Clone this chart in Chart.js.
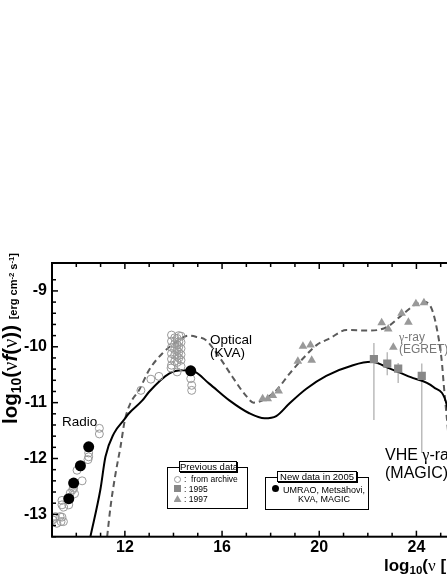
<!DOCTYPE html>
<html lang="en">
<head>
<meta charset="UTF-8">
<title>SED</title>
<script src="https://cdn.jsdelivr.net/npm/chart.js@4.4.0/dist/chart.umd.min.js"></script>
<style>
    html, body {
        margin: 0;
        padding: 0;
        width: 447px;
        height: 578px;
        overflow: hidden;
        background: #fff;
    }
    body {
        position: relative;
        font-family: "Liberation Sans", Arial, sans-serif;
        color: #000;
    }
    #sed { position: absolute; left: 0; top: 0; }
    .lbl { position: absolute; white-space: nowrap; }
    .nu { font-family: "Liberation Serif", "DejaVu Serif", serif; font-weight: normal; }
    sub { font-size: 0.68em; vertical-align: -0.3em; line-height: 0; }
    sup { font-size: 0.7em; vertical-align: 0.45em; line-height: 0; }
    .ytitle {
        left: 0; top: 424px;
        transform-origin: 0 0;
        transform: rotate(-90deg);
        font-size: 20.5px; font-weight: bold; line-height: 20px;
    }
    .ytitle .unit { font-size: 11px; }
    .xtitle { left: 384px; top: 556px; font-size: 17px; font-weight: bold; line-height: 20px; }
    .note { font-size: 13.5px; line-height: 13px; }
    .gamma { font-size: 12px; line-height: 12px; color: #777; }
    .vhe { font-size: 16px; line-height: 18px; }
    .box { position: absolute; box-sizing: border-box; border: 1px solid #000; background: #fff; }
    .boxtitle {
        position: absolute; box-sizing: border-box; border: 1px solid #000; background: #fff;
        box-shadow: 1px 1px 0 #000;
        font-size: 9.5px; line-height: 9px; height: 11px; text-align: center; white-space: nowrap;
    }
    .row { position: absolute; font-size: 8.5px; line-height: 10px; white-space: nowrap; }
    .sym { position: absolute; box-sizing: border-box; }
    .s-open { width: 7px; height: 7px; border: 1px solid #999; border-radius: 50%; }
    .s-sq { width: 7px; height: 7px; background: #888; }
    .s-tri { width: 8px; height: 7px; background: #999; clip-path: polygon(50% 0, 100% 100%, 0 100%); }
    .s-dot { width: 7px; height: 7px; background: #000; border-radius: 50%; }
    .newtxt { position: absolute; font-size: 9px; line-height: 9px; text-align: center; width: 86px; }
</style>
</head>
<body>
<canvas id="sed" width="480" height="578"></canvas>

<div class="lbl ytitle">log<sub>10</sub>(<span class="nu">ν</span><i>f</i>(<span class="nu">ν</span>)) <span class="unit">[erg cm<sup>-2</sup> s<sup>-1</sup>]</span></div>
<div class="lbl xtitle">log<sub>10</sub>(<span class="nu">ν</span> [Hz])</div>

<div class="lbl note" style="left:62px; top:415px;">Radio</div>
<div class="lbl note" style="left:210px; top:333px;">Optical<br>(KVA)</div>
<div class="lbl gamma" style="left:399px; top:331px;"><span class="nu">γ</span>-ray<br>(EGRET)</div>
<div class="lbl vhe" style="left:385px; top:446px;">VHE <span class="nu">γ</span>-ray<br>(MAGIC)</div>

<!-- previous data legend -->
<div class="box" style="left:167px; top:467px; width:81px; height:42px;"></div>
<div class="boxtitle" style="left:179px; top:461px; width:58px;">Previous data</div>
<div class="sym s-open" style="left:174px; top:475.5px;"></div>
<div class="row" style="left:184px; top:474px;">: &nbsp;from archive</div>
<div class="sym s-sq" style="left:174px; top:485px;"></div>
<div class="row" style="left:184px; top:483.5px;">: 1995</div>
<div class="sym s-tri" style="left:173.5px; top:495px;"></div>
<div class="row" style="left:184px; top:493.5px;">: 1997</div>

<!-- new data legend -->
<div class="box" style="left:265px; top:477px; width:104px; height:33px;"></div>
<div class="boxtitle" style="left:277px; top:470.5px; width:80px;">New data in 2005</div>
<div class="sym s-dot" style="left:271.5px; top:484.5px;"></div>
<div class="newtxt" style="left:281px; top:485.5px;">UMRAO, Metsähovi,<br>KVA, MAGIC</div>

<script>
    // 2005 campaign: UMRAO, Metsähovi, KVA, MAGIC (filled circles)
    const new2005X = [9.69, 9.89, 10.17, 10.51, 14.71];
    const new2005Y = [-12.72, -12.44, -12.13, -11.79, -10.43];

    // archival data (open circles)
    const archiveX = [10.95, 10.95, 10.51, 10.51, 10.48, 10.03, 10.24, 9.85, 9.93, 9.75, 9.89,
                      9.41, 9.41, 9.48, 9.69, 9.14, 9.41, 9.03, 9.37, 9.12, 9.33, 9.47, 9.20,
                      12.66, 13.07, 13.40, 13.90,
                      13.92, 13.92, 13.92, 13.92, 13.92, 13.92,
                      14.05, 14.05, 14.05, 14.05, 14.05,
                      14.15, 14.15, 14.15, 14.15, 14.15, 14.15,
                      14.22, 14.22, 14.22, 14.22, 14.22,
                      14.31, 14.31, 14.31, 14.31, 14.31, 14.31,
                      14.71, 14.75, 14.75];
    const archiveY = [-11.46, -11.56, -11.90, -11.97, -12.02, -12.21, -12.40, -12.56, -12.63, -12.62, -12.53,
                      -12.75, -12.83, -12.87, -12.83, -13.04, -13.05, -13.10, -13.13, -13.07, -13.04, -13.13, -13.16,
                      -10.78, -10.58, -10.53, -10.38,
                      -9.79, -9.90, -10.01, -10.12, -10.22, -10.33,
                      -9.84, -9.95, -10.05, -10.15, -10.26,
                      -9.85, -9.96, -10.06, -10.17, -10.28, -10.45,
                      -9.80, -9.91, -10.00, -10.10, -10.20,
                      -9.81, -9.92, -10.03, -10.14, -10.24, -10.35,
                      -10.57, -10.69, -10.78];

    // 1995 (squares) with error bars
    const y1995X = [22.25, 22.80, 23.25, 24.22];
    const y1995Y = [-10.22, -10.30, -10.39, -10.52];
    const y1995Hi = [-9.93, -10.10, -10.29, -10.30];
    const y1995Lo = [-11.31, -10.51, -10.65, -11.90];

    // 1997 (triangles)
    const y1997X = [17.67, 17.88, 18.09, 18.33, 19.12, 19.33, 19.64, 19.69,
                    22.57, 22.84, 23.05, 23.39, 23.67, 23.98, 24.31];
    const y1997Y = [-10.93, -10.93, -10.87, -10.79, -10.26, -9.99, -9.97, -10.24,
                    -9.57, -9.68, -10.01, -9.40, -9.56, -9.23, -9.21];

    // model for 2005 (solid)
    const model2005X = [10.58, 10.99, 11.20, 11.55, 11.96, 12.17, 12.72, 12.99, 13.82, 14.37, 14.78,
                        15.47, 16.30, 17.12, 17.75, 18.23, 18.78, 19.47, 20.29, 21.39, 22.15, 22.91,
                        23.74, 24.70, 25.25, 25.45];
    const model2005Y = [-13.40, -12.56, -11.97, -11.55, -11.31, -11.19, -10.96, -10.81, -10.48, -10.42, -10.43,
                        -10.66, -10.96, -11.19, -11.28, -11.24, -11.01, -10.75, -10.52, -10.33, -10.27, -10.39,
                        -10.54, -10.72, -11.04, -11.60];

    // model for previous data (dashed)
    const modelPrevX = [11.27, 11.41, 11.62, 11.82, 12.00, 12.24, 12.58, 12.99, 13.54, 14.23, 14.60, 14.92,
                        15.33, 15.88, 16.43, 16.99, 17.30, 17.67, 18.23, 18.78, 19.33, 19.89, 20.43, 21.12,
                        22.08, 22.77, 23.46, 24.01, 24.35, 24.63, 24.83, 25.04, 25.12, 25.30];
    const modelPrevY = [-13.40, -12.86, -12.26, -11.79, -11.31, -11.00, -10.78, -10.42, -10.12, -9.88, -9.80, -9.82,
                        -9.88, -10.18, -10.54, -10.88, -11.00, -10.96, -10.78, -10.48, -10.21, -9.97, -9.85, -9.70,
                        -9.71, -9.65, -9.41, -9.23, -9.20, -9.32, -9.65, -10.24, -10.65, -11.50];

    // axis ranges
    const xRange = [9, 26];
    const yRange = [-13.4, -8.5];

    const pts = (xs, ys) => xs.map((x, i) => ({ x: x, y: ys[i] }));

    // error bars as one broken line
    const errPts = [];
    y1995X.forEach((x, i) => {
        errPts.push({ x: x, y: y1995Hi[i] }, { x: x, y: y1995Lo[i] }, { x: x, y: null });
    });

    // frame on all four sides with inward ticks
    const frameTicks = {
        id: 'frameTicks',
        afterDatasetsDraw(chart) {
            const { ctx, chartArea: a, scales: { x, y } } = chart;
            const seg = (x1, y1, x2, y2) => {
                ctx.beginPath(); ctx.moveTo(x1, y1); ctx.lineTo(x2, y2); ctx.stroke();
            };
            ctx.save();
            ctx.strokeStyle = '#000';
            ctx.lineWidth = 1.5;
            x.ticks.forEach(t => {
                const px = x.getPixelForValue(t.value);
                const len = t.value % 4 === 0 ? 6 : 4;
                seg(px, a.bottom, px, a.bottom - len);
                seg(px, a.top, px, a.top + len);
            });
            y.ticks.forEach(t => {
                const v = t.value;
                if (Math.abs(v * 5 - Math.round(v * 5)) > 1e-6) return;
                const py = y.getPixelForValue(v);
                const len = Math.abs(v - Math.round(v)) < 1e-6 ? 6 : 4;
                seg(a.left, py, a.left + len, py);
                seg(a.right, py, a.right - len, py);
            });
            ctx.lineWidth = 2;
            ctx.strokeRect(a.left, a.top, a.right - a.left, a.bottom - a.top);
            ctx.restore();
        }
    };

    const tickFont = { family: '"Liberation Sans", Arial, sans-serif', size: 16, weight: 'bold' };

    new Chart(document.getElementById('sed'), {
        type: 'scatter',
        data: {
            datasets: [
                {
                    label: '2005',
                    data: pts(new2005X, new2005Y),
                    pointStyle: 'circle',
                    pointRadius: 5.5,
                    backgroundColor: '#000',
                    borderColor: '#000',
                    borderWidth: 0,
                    order: 0
                },
                {
                    label: '1995',
                    data: pts(y1995X, y1995Y),
                    pointStyle: 'rect',
                    pointRadius: 5.8,
                    backgroundColor: '#888',
                    borderWidth: 0,
                    order: 1
                },
                {
                    label: '1997',
                    data: pts(y1997X, y1997Y),
                    pointStyle: 'triangle',
                    pointRadius: 5,
                    backgroundColor: '#999',
                    borderWidth: 0,
                    order: 2
                },
                {
                    label: 'archive',
                    data: pts(archiveX, archiveY),
                    pointStyle: 'circle',
                    pointRadius: 4,
                    backgroundColor: 'rgba(255,255,255,0)',
                    borderColor: '#999',
                    borderWidth: 1,
                    order: 3
                },
                {
                    label: 'model 2005',
                    data: pts(model2005X, model2005Y),
                    showLine: true,
                    pointRadius: 0,
                    borderColor: '#000',
                    borderWidth: 2,
                    cubicInterpolationMode: 'monotone',
                    order: 4
                },
                {
                    label: 'model previous',
                    data: pts(modelPrevX, modelPrevY),
                    showLine: true,
                    pointRadius: 0,
                    borderColor: '#5a5a5a',
                    borderWidth: 2,
                    borderDash: [6, 4],
                    cubicInterpolationMode: 'monotone',
                    order: 5
                },
                {
                    label: 'errors',
                    data: errPts,
                    showLine: true,
                    spanGaps: false,
                    pointRadius: 0,
                    borderColor: '#bbb',
                    borderWidth: 1.5,
                    order: 6
                }
            ]
        },
        options: {
            responsive: false,
            animation: false,
            devicePixelRatio: 1,
            events: [],
            layout: { padding: { top: 263, right: 15, left: 0, bottom: 0 } },
            plugins: {
                legend: { display: false },
                tooltip: { enabled: false }
            },
            scales: {
                x: {
                    type: 'linear',
                    min: xRange[0],
                    max: xRange[1],
                    grid: { display: false, drawTicks: false },
                    border: { display: false },
                    ticks: {
                        stepSize: 1,
                        autoSkip: false,
                        maxRotation: 0,
                        padding: 1,
                        color: '#000',
                        font: tickFont,
                        callback: v => (v % 4 === 0 ? String(v) : '')
                    },
                    afterFit: s => { s.height = 41.3; }
                },
                y: {
                    type: 'linear',
                    min: yRange[0],
                    max: yRange[1],
                    grid: { display: false, drawTicks: false },
                    border: { display: false },
                    ticks: {
                        stepSize: 0.2,
                        autoSkip: false,
                        padding: 5,
                        color: '#000',
                        font: tickFont,
                        callback: v => (Math.abs(v - Math.round(v)) < 1e-6 ? String(Math.round(v)) : '')
                    },
                    afterFit: s => { s.width = 52; }
                }
            }
        },
        plugins: [frameTicks]
    });
</script>
</body>
</html>
